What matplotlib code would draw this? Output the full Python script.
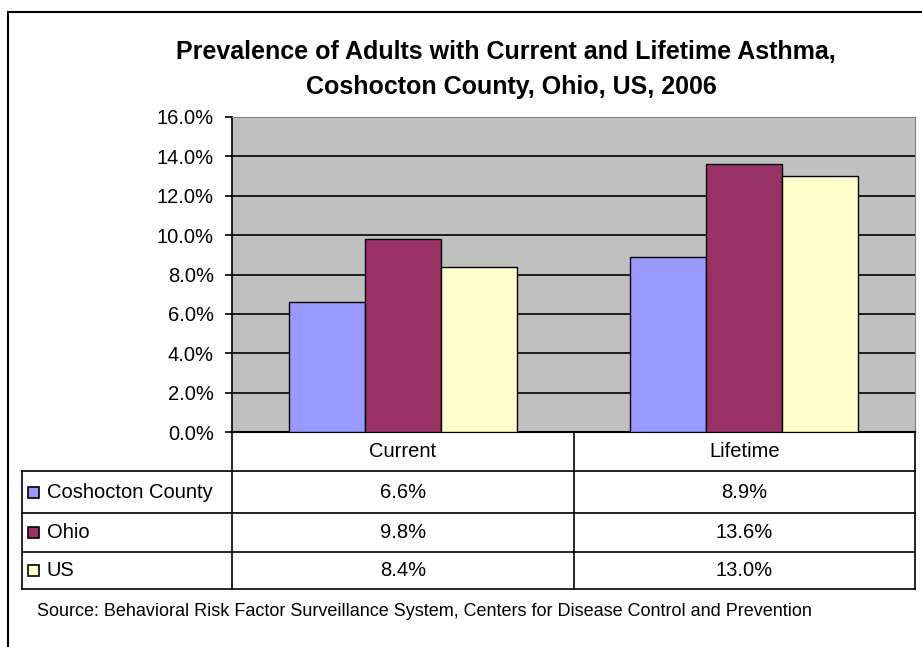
import matplotlib.pyplot as plt
import numpy as np
from matplotlib.patches import Rectangle
from matplotlib.transforms import blended_transform_factory

plt.rcParams['font.family'] = ['Liberation Sans', 'DejaVu Sans']

categories = ['Current', 'Lifetime']
series_names = ['Coshocton County', 'Ohio', 'US']
values = {
    'Coshocton County': [6.6, 8.9],
    'Ohio': [9.8, 13.6],
    'US': [8.4, 13.0],
}
colors = ['#9999FF', '#993366', '#FFFFCC']
yticks = [0, 2, 4, 6, 8, 10, 12, 14, 16]

W, H = 922, 647
fig = plt.figure(figsize=(W / 100, H / 100), dpi=100)

# pixel helpers (top-left origin)
def fx(px):
    return px / W

def fy(py):
    return 1 - py / H

# outer frame (right/bottom run off the image)
fig.add_artist(Rectangle((fx(8), fy(700)), fx(1000), fy(12) - fy(700),
                         transform=fig.transFigure, fill=False, lw=1.5, ec='black'))

ax_left, ax_right, ax_top, ax_bot = 232, 915, 117, 432
ax = fig.add_axes([fx(ax_left), fy(ax_bot), fx(ax_right - ax_left), fy(ax_top) - fy(ax_bot)])
ax.set_facecolor('#C0C0C0')

x = np.arange(len(categories))
bw = 2 / 3 / 3
for i, name in enumerate(series_names):
    ax.bar(x + (i - 1) * bw, values[name], bw, color=colors[i], edgecolor='black',
           linewidth=1, zorder=3)

ax.set_xlim(-0.5, len(categories) - 0.5)
ax.set_ylim(0, 16)
ax.set_yticks(yticks)
ax.set_yticklabels([f'{t:.1f}%' for t in yticks], fontsize=14.5)
ax.yaxis.grid(True, color='black', lw=1.2, zorder=1)
ax.set_xticks([])
ax.tick_params(axis='y', length=5, width=1.2, pad=8)
for s in ['top', 'right']:
    ax.spines[s].set_color('#808080')
ax.spines['left'].set_linewidth(1.2)
ax.spines['bottom'].set_linewidth(1.5)

fig.text(fx(506), fy(52), 'Prevalence of Adults with Current and Lifetime Asthma,',
         ha='center', va='center', fontsize=18, fontweight='bold')
fig.text(fx(511), fy(87), 'Coshocton County, Ohio, US, 2006',
         ha='center', va='center', fontsize=18, fontweight='bold')

# data table under the axis
tr = blended_transform_factory(ax.transData, fig.transFigure)
row_edges = [432, 471, 513, 552, 589]
tbl_left = 22
lw = 1.2
for yy in row_edges[1:]:
    fig.add_artist(plt.Line2D([fx(tbl_left), fx(ax_right)], [fy(yy)] * 2, color='black', lw=lw))
fig.add_artist(plt.Line2D([fx(tbl_left)] * 2, [fy(471), fy(589)], color='black', lw=lw))
fig.add_artist(plt.Line2D([fx(ax_left)] * 2, [fy(432), fy(589)], color='black', lw=lw))
fig.add_artist(plt.Line2D([fx(ax_right)] * 2, [fy(432), fy(589)], color='black', lw=lw))
fig.add_artist(plt.Line2D([0.5, 0.5], [fy(432), fy(589)], color='black', lw=lw,
                          transform=tr))

for j, cat in enumerate(categories):
    fig.text(x[j], fy((row_edges[0] + row_edges[1]) / 2), cat, transform=tr,
             ha='center', va='center', fontsize=14.5)
for i, name in enumerate(series_names):
    yc = fy((row_edges[i + 1] + row_edges[i + 2]) / 2)
    fig.add_artist(Rectangle((fx(28), yc - 5.5 / H), 11 / W, 11 / H, transform=fig.transFigure,
                             facecolor=colors[i], edgecolor='black', lw=1.2))
    fig.text(fx(47), yc, name, ha='left', va='center', fontsize=14.5)
    for j in range(len(categories)):
        fig.text(x[j], yc, f'{values[name][j]:.1f}%', transform=tr,
                 ha='center', va='center', fontsize=14.5)

fig.text(fx(37), fy(612), 'Source: Behavioral Risk Factor Surveillance System, Centers for Disease Control and Prevention',
         ha='left', va='center', fontsize=13)

fig.savefig('out.png', dpi=100)
